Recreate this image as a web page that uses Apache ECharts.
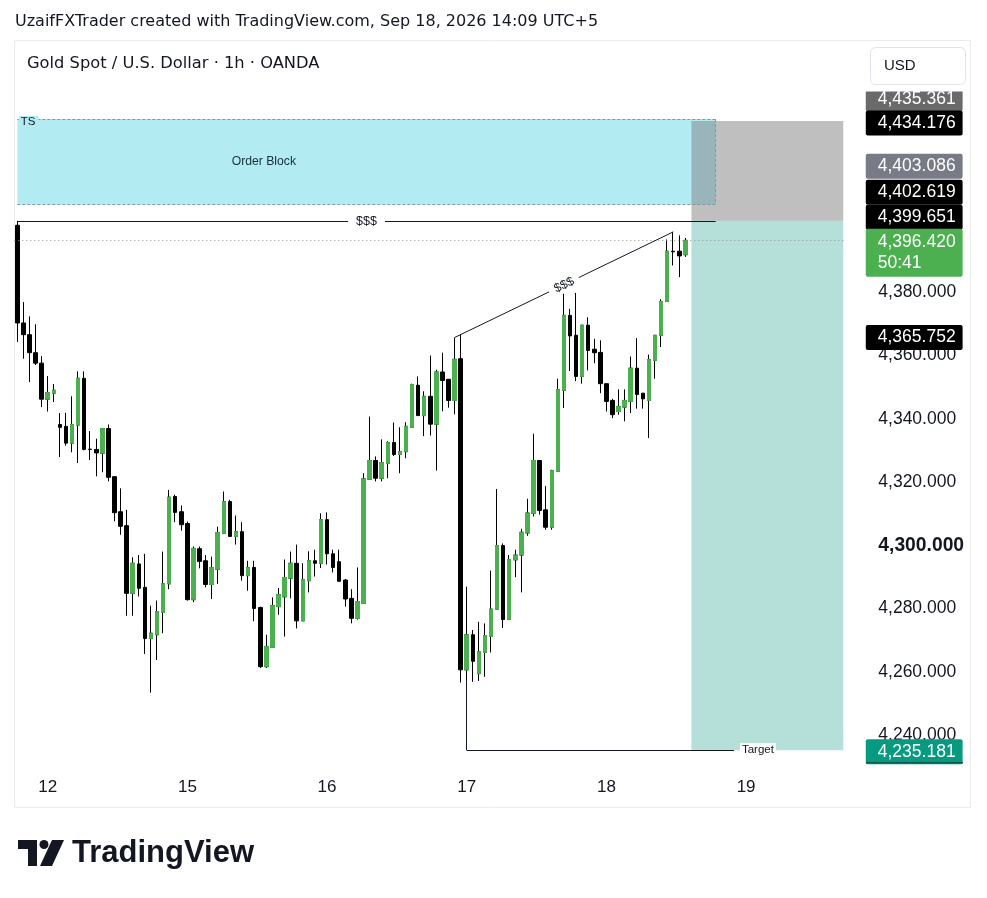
<!DOCTYPE html>
<html><head><meta charset="utf-8">
<script src="https://cdn.jsdelivr.net/npm/echarts@6/dist/echarts.min.js"></script>
<style>html,body{margin:0;padding:0;background:#fff;}#c{width:987px;height:898px;}</style>
</head><body><div id="c"></div>
<script>
// ---------- DATA ----------
const barOpen = [4401.2,4370.3,4366.6,4360.9,4357.6,4346.2,4348.1,4338.2,4337.6,4332.3,
4338.0,4352.8,4330.4,4330.3,4329.1,4336.9,4321.7,4310.6,4306.2,4284.8,
4294.1,4286.7,4270.5,4271.7,4278.8,4287.8,4315.4,4310.6,4306.9,4282.8,
4298.9,4295.1,4287.6,4292.4,4303.8,4313.8,4302.8,4304.3,4290.4,4293.0,
4280.3,4261.6,4267.7,4280.6,4283.7,4289.6,4294.3,4276.1,4288.8,4295.1,
4294.3,4308.1,4297.3,4294.8,4289.0,4283.2,4276.9,4281.6,4320.9,4326.8,
4321.2,4325.9,4332.5,4328.7,4329.6,4337.3,4350.6,4341.0,4347.1,4338.3,
4354.8,4352.5,4345.8,4359.0,4260.6,4271.7,4259.4,4266.1,4271.2,4279.8,
4299.9,4276.5,4295.4,4296.9,4303.9,4310.1,4326.8,4311.2,4305.7,4323.4,
4349.0,4372.7,4366.4,4353.4,4369.6,4362.0,4361.0,4351.1,4345.8,4342.3,
4343.7,4345.5,4356.0,4348.1,4345.8,4358.5,4366.4,4377.1,4393.0,4393.0,4391.9];
const barClose = [4370.3,4366.6,4360.9,4357.6,4346.2,4348.3,4349.0,4337.3,4332.3,4338.2,
4352.8,4330.3,4330.3,4329.2,4336.9,4321.5,4310.3,4306.0,4284.8,4294.3,
4286.4,4270.5,4272.2,4279.0,4287.8,4315.2,4310.4,4306.5,4282.8,4299.0,
4294.9,4287.6,4292.9,4304.0,4313.8,4302.8,4304.3,4290.4,4293.0,4280.0,
4261.6,4268.0,4280.9,4284.4,4289.8,4294.3,4276.1,4289.1,4295.1,4294.3,
4308.1,4297.3,4293.0,4288.6,4283.0,4276.9,4282.2,4321.0,4326.8,4321.2,
4326.1,4332.5,4328.7,4329.6,4337.6,4350.8,4341.0,4347.1,4338.3,4354.8,
4352.1,4345.8,4358.8,4260.6,4271.7,4263.3,4266.3,4271.4,4279.8,4299.9,
4276.5,4295.5,4296.9,4304.1,4310.2,4326.8,4311.0,4305.7,4323.6,4349.2,
4372.7,4366.2,4353.4,4369.6,4361.6,4360.9,4351.1,4345.5,4341.3,4343.9,
4345.8,4356.0,4347.7,4346.3,4358.7,4366.4,4377.1,4393.0,4392.8,4391.5,4396.42];
const barLow = [4364.3,4359.0,4351.6,4357.0,4343.7,4342.3,4345.3,4327.9,4331.5,4329.4,
4326.0,4330.0,4327.0,4321.8,4323.1,4320.2,4307.6,4303.3,4277.7,4277.7,
4283.8,4265.6,4253.4,4263.7,4272.2,4286.1,4307.3,4304.6,4282.5,4282.0,
4292.7,4286.7,4283.0,4287.8,4303.7,4302.8,4300.2,4288.8,4285.6,4276.0,
4261.2,4261.2,4267.7,4278.0,4271.1,4283.2,4273.7,4276.1,4285.1,4290.1,
4292.8,4293.9,4291.4,4288.6,4280.6,4275.3,4276.5,4281.6,4320.9,4320.2,
4320.2,4321.2,4328.2,4322.8,4327.5,4337.3,4341.0,4334.5,4334.7,4323.6,
4342.4,4343.5,4341.4,4256.6,4256.8,4256.8,4257.1,4258.4,4266.1,4279.8,
4273.8,4276.5,4289.9,4285.1,4303.0,4309.1,4309.7,4304.9,4304.9,4323.4,
4343.4,4355.1,4351.9,4351.1,4355.3,4357.6,4348.1,4342.3,4340.2,4341.3,
4339.2,4341.8,4343.2,4343.2,4333.9,4352.7,4362.7,4377.1,4388.5,4384.8,4391.2];
const barHigh = [4402.6,4376.9,4372.4,4369.9,4359.8,4353.5,4351.0,4341.8,4341.9,4347.1,
4355.0,4355.0,4336.1,4333.7,4337.0,4338.2,4321.7,4318.0,4311.2,4296.2,
4296.9,4297.3,4280.9,4282.5,4298.0,4317.5,4316.0,4312.6,4307.5,4299.6,
4299.6,4296.9,4296.4,4305.9,4317.0,4314.4,4309.4,4307.3,4295.1,4295.1,
4280.6,4271.7,4283.5,4286.5,4295.5,4298.0,4300.2,4294.3,4298.1,4298.6,
4310.1,4310.4,4298.6,4298.6,4289.3,4286.1,4293.0,4322.8,4340.7,4328.1,
4333.5,4332.9,4338.8,4337.3,4338.9,4351.1,4353.4,4348.7,4360.0,4355.5,
4360.9,4352.5,4365.7,4366.7,4286.9,4273.2,4275.8,4275.3,4292.0,4317.8,
4300.6,4296.9,4298.6,4305.2,4314.7,4335.3,4327.0,4318.7,4323.9,4352.7,
4383.5,4374.8,4379.8,4369.6,4372.1,4365.3,4364.8,4351.1,4346.3,4349.3,
4349.3,4359.7,4365.5,4348.1,4360.3,4366.4,4377.8,4396.7,4399.1,4398.0,4397.2];
const emptySlotsRight = 26;
const dayLabels = ['12','15','16','17','18','19'];
const dayStartBar = [5, 28, 51, 74, 97, 120];
const yMin = 4220, yMax = 4460, yStep = 20;
const orderBlockTop = 4434.8, orderBlockBottom = 4407.8, orderBlockBars = [0, 115];
const stopLevel = 4434.176, entryLevel = 4402.619, targetLevel = 4235.181, positionBars = [111, 136];
const sweptHighLevel = 4402.619, sweptHighBars = [0, 115];
const trendStart = [72, 4365.7], trendEnd = [108, 4399.1];
const targetStartBar = 74, targetStartPrice = 4256.8, targetEndBar = 118;
const tagValues = [4435.361, 4434.176, 4403.086, 4402.619, 4399.651, 4396.420, 4365.752, 4235.181];
const lastPrice = 4396.420, barCountdown = '50:41';

// ---------- BUILD ----------
const FONT = 'Liberation Sans, Arial, sans-serif';
const UIFONT = 'DejaVu Sans, Verdana, sans-serif';
const nSlots = barOpen.length + emptySlotsRight;
const slots = Array.from({length: nSlots}, (_, i) => String(i));
const candles = barOpen.map((o, i) => [o, barClose[i], barLow[i], barHigh[i]]);
const upBodies = barOpen.map((o, i) => barClose[i] > o ? [o, barClose[i], o, barClose[i]] : '-');
function fmt(v) {
  const s = v.toFixed(3).split('.');
  return s[0].replace(/\B(?=(\d{3})+(?!\d))/g, ',') + '.' + s[1];
}
const tagStyle = [
  {bg: '#6a6a6a', dy: -18.5},
  {bg: '#000000', dy: 2},
  {bg: '#787b86', dy: -53},
  {bg: '#000000', dy: -28.6},
  {bg: '#000000', dy: -13},
  {bg: '#4caf50', dy: 12.4, extra: barCountdown},
  {bg: '#000000', dy: 0.2},
  {bg: '#089981', dy: 1.5}
];
const tagPoints = tagValues.map((v, i) => {
  const st = tagStyle[i];
  const two = !!st.extra;
  return {
    coord: [nSlots - 1, v],
    symbol: 'rect', symbolSize: 1,
    itemStyle: {color: 'rgba(0,0,0,0)'},
    label: {
      show: true, position: 'right', distance: 22,
      offset: [0, st.dy],
      formatter: two ? fmt(v) + '\n' + st.extra : fmt(v),
      color: '#ffffff', backgroundColor: st.bg,
      fontFamily: FONT, fontSize: 17.5, lineHeight: two ? 21 : 19,
      padding: [3, 7, 3, 12],
      borderRadius: 2, align: 'left', verticalAlign: 'middle'
    }
  };
});

const darkLine = {color: '#131722', width: 1, type: 'solid'};
const smallLabel = {color: '#131722', fontFamily: FONT, fontSize: 12.5, backgroundColor: '#ffffff'};
const obBorder = {color: '#7f9aa1', width: 1, type: [3, 2]};

const chart = echarts.init(document.getElementById('c'), null, {renderer: 'canvas'});
chart.setOption({
  animation: false,
  backgroundColor: '#ffffff',
  grid: {left: 14.3, top: 39.34, width: 832, height: 758.88},
  xAxis: {
    type: 'category', data: slots, boundaryGap: true,
    offset: -11.2,
    axisLine: {show: false, onZero: false}, axisTick: {show: false}, splitLine: {show: false},
    axisLabel: {
      interval: (idx) => dayStartBar.indexOf(idx) >= 0,
      formatter: (val, idx) => { const k = dayStartBar.indexOf(Number(val)); return k >= 0 ? dayLabels[k] : ''; },
      margin: 0, verticalAlign: 'middle', fontSize: 17, color: '#131722', fontFamily: FONT, hideOverlap: false
    }
  },
  yAxis: {
    type: 'value', position: 'right', min: yMin, max: yMax, interval: yStep, scale: true,
    axisLine: {show: false}, axisTick: {show: false}, splitLine: {show: false},
    axisLabel: {
      margin: 32, align: 'left', fontSize: 17.5, color: '#131722', fontFamily: FONT,
      showMinLabel: false, showMaxLabel: false,
      formatter: (v) => (v < 4230 || v > 4390) ? '' : (v === 4300 ? '{b|' + fmt(v) + '}' : fmt(v)),
      rich: {b: {fontSize: 19.3, fontWeight: 'bold', color: '#131722', fontFamily: FONT}}
    }
  },
  series: [
    {
      type: 'candlestick', name: 'XAUUSD', data: candles, barWidth: 4, clip: false, silent: true,
      itemStyle: {color: '#4caf50', color0: '#000000', borderColor: '#000000', borderColor0: '#000000', borderWidth: 1},
      markArea: {
        silent: true,
        data: [[
          {coord: [orderBlockBars[0], orderBlockTop], itemStyle: {color: '#b2ebf2', borderWidth: 0},
           label: {show: true, formatter: 'Order Block', position: ['35.3%', '50%'], align: 'center', verticalAlign: 'middle',
                   color: '#15303a', fontFamily: FONT, fontSize: 12.2}},
          {coord: [orderBlockBars[1], orderBlockBottom]}
        ]]
      },
      markLine: {
        silent: true, symbol: 'none',
        data: [
          [{coord: [orderBlockBars[0], orderBlockTop], lineStyle: obBorder, label: {show: false}}, {coord: [orderBlockBars[1], orderBlockTop]}],
          [{coord: [orderBlockBars[0], orderBlockBottom], lineStyle: obBorder, label: {show: false}}, {coord: [orderBlockBars[1], orderBlockBottom]}],
          [{coord: [orderBlockBars[1], orderBlockTop], lineStyle: obBorder, label: {show: false}}, {coord: [orderBlockBars[1], orderBlockBottom]}]
        ]
      },
      markPoint: {
        silent: true,
        data: [{coord: [orderBlockBars[0], orderBlockTop], symbol: 'rect', symbolSize: 1, itemStyle: {color: 'rgba(0,0,0,0)'},
                label: {show: true, formatter: 'TS', position: 'right', distance: 0, offset: [1, 3],
                        color: '#131722', fontFamily: FONT, fontSize: 11.5, backgroundColor: '#b2ebf2', padding: [0, 3, 0, 2]}}]
      }
    },
    {
      type: 'candlestick', name: 'up bodies', data: upBodies, barWidth: 4, clip: false, silent: true,
      itemStyle: {color: '#4caf50', color0: '#4caf50', borderColor: '#4caf50', borderColor0: '#4caf50', borderWidth: 1},
      markArea: {
        silent: true,
        data: [
          [{coord: [positionBars[0], stopLevel], itemStyle: {color: 'rgba(128,128,128,0.5)'}}, {coord: [positionBars[1], entryLevel]}],
          [{coord: [positionBars[0], entryLevel], itemStyle: {color: 'rgba(8,153,129,0.3)'}}, {coord: [positionBars[1], targetLevel]}]
        ]
      },
      markLine: {
        silent: true, symbol: 'none',
        data: [
          {yAxis: lastPrice, lineStyle: {color: '#8a968b', width: 1, type: [1, 3]}, label: {show: false}},
          [{coord: [sweptHighBars[0], sweptHighLevel], lineStyle: darkLine,
            label: Object.assign({show: true, position: 'middle', distance: -8, formatter: '$$$', padding: [1, 8]}, smallLabel)},
           {coord: [sweptHighBars[1], sweptHighLevel]}],
          [{coord: trendStart, lineStyle: darkLine,
            label: Object.assign({show: true, position: 'middle', distance: -8, formatter: '$$$', padding: [1, 6]}, smallLabel)},
           {coord: trendEnd}],
          [{coord: [targetStartBar, targetStartPrice], lineStyle: darkLine, label: {show: false}}, {coord: [targetStartBar, targetLevel]}],
          [{coord: [targetStartBar, targetLevel], lineStyle: darkLine,
            label: Object.assign({show: true, position: 'end', distance: 6, formatter: 'Target', padding: [1, 2]}, smallLabel, {fontSize: 11.5})},
           {coord: [targetEndBar, targetLevel]}]
        ]
      },
      markPoint: {silent: true, data: tagPoints}
    }
  ],
  graphic: [
    {type: 'rect', silent: true, z: 0, shape: {x: 14.5, y: 40.5, width: 956, height: 767}, style: {fill: 'none', stroke: '#ebebeb', lineWidth: 1}},
    {type: 'rect', silent: true, z: 100, shape: {x: 860, y: 86, width: 108, height: 5.5}, style: {fill: '#ffffff'}},
    {type: 'rect', silent: true, z: 100, shape: {x: 866, y: 762, width: 97, height: 1.5}, style: {fill: '#05594b'}},
    {type: 'rect', silent: true, z: 100, shape: {x: 870.5, y: 47.5, width: 95, height: 37, r: 5}, style: {fill: '#ffffff', stroke: '#e0e3eb', lineWidth: 1}},
    {type: 'text', silent: true, z: 101, style: {x: 884, y: 66, text: 'USD', fontFamily: FONT, fontSize: 15, fill: '#131722', verticalAlign: 'middle'}},
    {type: 'text', silent: true, z: 101, style: {x: 15, y: 22, text: 'UzaifFXTrader created with TradingView.com, Sep 18, 2026 14:09 UTC+5', fontFamily: UIFONT, fontSize: 16, fill: '#131722', verticalAlign: 'middle'}},
    {type: 'text', silent: true, z: 101, style: {x: 27, y: 64, text: 'Gold Spot / U.S. Dollar · 1h · OANDA', fontFamily: UIFONT, fontSize: 16.3, fill: '#131722', verticalAlign: 'middle'}},
    {type: 'rect', silent: true, z: 101, shape: {x: 18, y: 840, width: 19, height: 9}, style: {fill: '#131722'}},
    {type: 'rect', silent: true, z: 101, shape: {x: 28, y: 840, width: 9, height: 26}, style: {fill: '#131722'}},
    {type: 'circle', silent: true, z: 101, shape: {cx: 44, cy: 844.5, r: 4.5}, style: {fill: '#131722'}},
    {type: 'polygon', silent: true, z: 101, shape: {points: [[52, 840], [64, 840], [52, 866], [40, 866]]}, style: {fill: '#131722'}},
    {type: 'text', silent: true, z: 101, style: {x: 72, y: 853, text: 'TradingView', fontFamily: FONT, fontSize: 31, fontWeight: 'bold', fill: '#131722', verticalAlign: 'middle'}}
  ]
});
</script></body></html>
